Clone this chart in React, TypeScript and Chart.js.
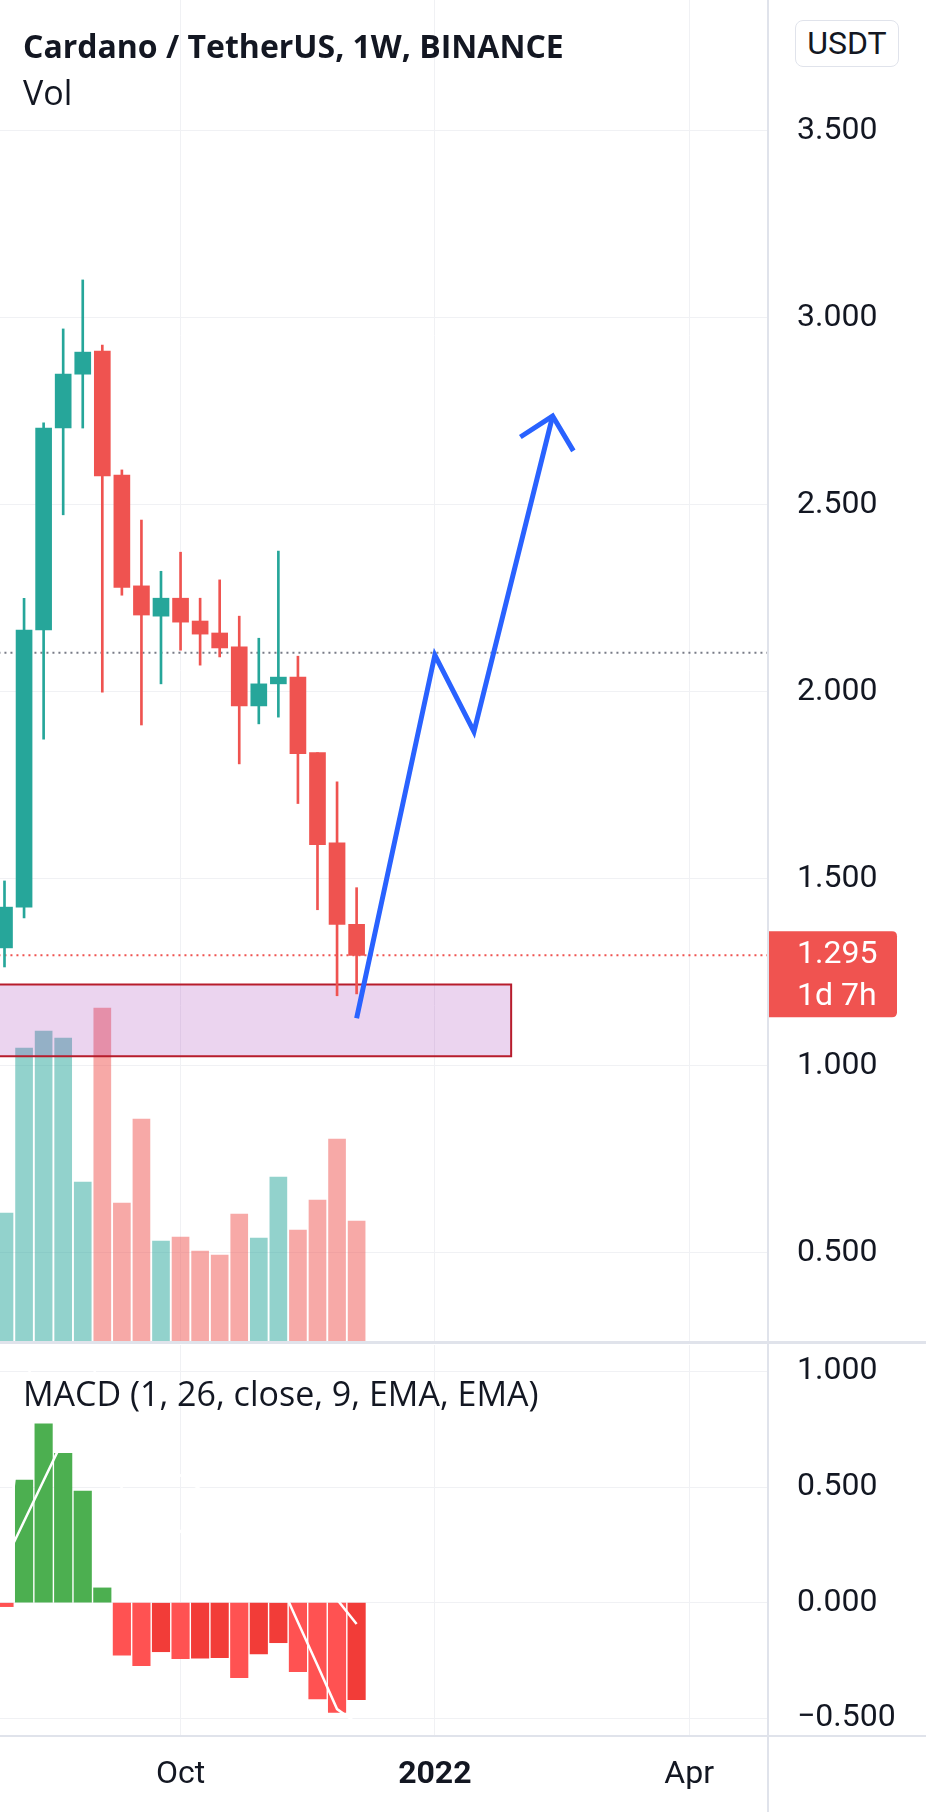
import React, { useEffect, useRef } from 'react';
import { Chart, registerables } from 'chart.js';

Chart.register(...registerables);

// ---------- data ----------
const weeks = [
  '2021-08-02', '2021-08-09', '2021-08-16', '2021-08-23', '2021-08-30',
  '2021-09-06', '2021-09-13', '2021-09-20', '2021-09-27', '2021-10-04',
  '2021-10-11', '2021-10-18', '2021-10-25', '2021-11-01', '2021-11-08',
  '2021-11-15', '2021-11-22', '2021-11-29', '2021-12-06',
];
const opens = [1.315, 1.424, 2.165, 2.705, 2.849, 2.911, 2.579, 2.283, 2.202, 2.250, 2.189, 2.157, 2.120, 1.962, 2.021, 2.039, 1.837, 1.596, 1.378];
const highs = [1.494, 2.250, 2.719, 2.970, 3.101, 2.927, 2.593, 2.459, 2.322, 2.373, 2.250, 2.299, 2.202, 2.143, 2.376, 2.095, 1.837, 1.759, 1.476];
const lows = [1.264, 1.395, 1.873, 2.473, 2.705, 1.999, 2.258, 1.911, 2.021, 2.111, 2.071, 2.093, 1.807, 1.914, 1.932, 1.701, 1.417, 1.187, 1.192];
const closes = [1.424, 2.165, 2.705, 2.849, 2.908, 2.577, 2.279, 2.205, 2.250, 2.186, 2.154, 2.117, 1.962, 2.021, 2.039, 1.834, 1.591, 1.378, 1.295];
const volumes = [1280, 2930, 3100, 3030, 1590, 3330, 1380, 2220, 1000, 1040, 900, 860, 1270, 1030, 1640, 1110, 1410, 2020, 1200];

const macdHist = [-0.017, 0.530, 0.773, 0.646, 0.483, 0.064, -0.227, -0.272, -0.212, -0.242, -0.240, -0.238, -0.324, -0.222, -0.173, -0.298, -0.416, -0.474, -0.419];
const macdLine = [0.166, 0.882, 1.301, 1.350, 1.263, 0.834, 0.493, 0.388, 0.388, 0.308, 0.250, 0.202, 0.066, 0.118, 0.104, -0.085, -0.270, -0.460, -0.520];
const signalLine = [0.176, 0.352, 0.528, 0.704, 0.780, 0.770, 0.720, 0.660, 0.600, 0.550, 0.490, 0.440, 0.390, 0.340, 0.277, 0.213, 0.146, 0.014, -0.092];

const priceTicks = [0.5, 1, 1.5, 2, 2.5, 3, 3.5];
const macdTicks = [-0.5, 0, 0.5, 1];
const timeTickIdx = [9, 22, 35];
const timeTickLabels = ['Oct', '2022', 'Apr'];

const projX = [18, 22, 24, 28.02];
const projY = [1.127, 2.098, 1.893, 2.737];
const arrowHeadX = [26.37, 28.02, 29.08];
const arrowHeadY = [2.681, 2.737, 2.644];

const zoneX = [-2, 25.9];
const zonePrice = [1.025, 1.217];

const hLinePrice = 2.104;
const lastPrice = 1.295;
const lastPriceLabel = '1.295';
const countdownLabel = '1d 7h';

// ---------- view range ----------
const X_MIN = -0.23;
const X_MAX = 39.03;
const P_MIN = 0.2639;
const P_MAX = 3.8495;
const M_MIN = -0.572;
const M_MAX = 1.1141;
const VOL_MAX = 13410;

const UP = '#26a69a';
const DOWN = '#ef5350';
const GRID = '#f0f1f4';
const TEXT = '#131722';
const FONT = 'Roboto';

const idx = weeks.map((_, i) => i);
const isUp = idx.map((i) => closes[i] >= opens[i]);

function noPad(s: any) {
  s.paddingTop = 0;
  s.paddingBottom = 0;
  s.paddingLeft = 0;
  s.paddingRight = 0;
}

function xAxisGrid(showLabels: boolean, height: number) {
  return {
    type: 'linear',
    min: X_MIN,
    max: X_MAX,
    offset: false,
    grid: { color: GRID, lineWidth: 1, drawTicks: false, offset: false },
    border: { display: false },
    afterBuildTicks: (s: any) => {
      s.ticks = timeTickIdx.map((v) => ({ value: v }));
    },
    afterFit: (s: any) => {
      s.height = height;
      noPad(s);
    },
    ticks: {
      display: showLabels,
      padding: 21,
      maxRotation: 0,
      autoSkip: false,
      color: TEXT,
      font: (ctx: any) => ({
        family: FONT,
        size: 32,
        weight: ctx.tick && ctx.tick.value === 22 ? 'bold' : 'normal',
      }),
      callback: (v: any) => {
        const k = timeTickIdx.indexOf(v);
        return k >= 0 ? timeTickLabels[k] : '';
      },
    },
  };
}

function yAxis(min: number, max: number, ticks: number[], fmt: (v: number) => string) {
  return {
    type: 'linear',
    position: 'right',
    min,
    max,
    grid: { color: GRID, drawTicks: false },
    border: { display: false },
    afterBuildTicks: (s: any) => {
      s.ticks = ticks.map((v) => ({ value: v }));
    },
    afterFit: (s: any) => {
      s.width = 158;
      noPad(s);
    },
    ticks: {
      padding: 29,
      color: TEXT,
      font: { family: FONT, size: 32 },
      callback: (v: any) => fmt(Number(v)),
    },
  };
}

const priceTagPlugin = {
  id: 'priceTag',
  afterDraw(chart: any) {
    const { ctx, scales } = chart;
    const y = scales.y.getPixelForValue(lastPrice);
    const x0 = 767;
    const x1 = 897;
    const top = y - 24;
    const bot = y + 62;
    ctx.save();
    ctx.fillStyle = '#f05350';
    ctx.beginPath();
    const r = 5;
    ctx.moveTo(x0, top);
    ctx.lineTo(x1 - r, top);
    ctx.quadraticCurveTo(x1, top, x1, top + r);
    ctx.lineTo(x1, bot - r);
    ctx.quadraticCurveTo(x1, bot, x1 - r, bot);
    ctx.lineTo(x0, bot);
    ctx.closePath();
    ctx.fill();
    ctx.fillStyle = '#ffffff';
    ctx.font = `32px ${FONT}`;
    ctx.textBaseline = 'middle';
    ctx.textAlign = 'left';
    ctx.fillText(lastPriceLabel, 797, y);
    ctx.fillText(countdownLabel, 797, y + 42);
    ctx.restore();
  },
};

export default function App() {
  const priceRef = useRef<HTMLCanvasElement>(null);
  const macdRef = useRef<HTMLCanvasElement>(null);

  useEffect(() => {
    document.body.style.margin = '0';
    const candleColors = idx.map((i) => (isUp[i] ? UP : DOWN));
    const volColors = idx.map((i) => (isUp[i] ? 'rgba(38,166,154,0.5)' : 'rgba(239,83,80,0.5)'));

    const c1 = new Chart(priceRef.current as HTMLCanvasElement, {
      type: 'bar',
      data: {
        datasets: [
          {
            type: 'line',
            label: 'projection',
            data: projX.map((x, i) => ({ x, y: projY[i] })),
            borderColor: '#2962ff',
            borderWidth: 5,
            borderJoinStyle: 'miter',
            borderCapStyle: 'butt',
            pointRadius: 0,
            tension: 0,
            fill: false,
            order: 0,
          } as any,
          {
            type: 'line',
            label: 'arrowhead',
            data: arrowHeadX.map((x, i) => ({ x, y: arrowHeadY[i] })),
            borderColor: '#2962ff',
            borderWidth: 5,
            borderJoinStyle: 'miter',
            pointRadius: 0,
            tension: 0,
            fill: false,
            order: 0,
          } as any,
          {
            type: 'bar',
            label: 'bodies',
            data: idx.map((i) => ({ x: i, y: [opens[i], closes[i]] })),
            backgroundColor: candleColors,
            barThickness: 16,
            grouped: false,
            borderSkipped: false,
            order: 1,
          } as any,
          {
            type: 'bar',
            label: 'wicks',
            data: idx.map((i) => ({ x: i, y: [lows[i], highs[i]] })),
            backgroundColor: candleColors,
            barThickness: 2,
            grouped: false,
            order: 2,
          } as any,
          {
            type: 'line',
            label: 'level',
            data: [{ x: X_MIN - 1, y: hLinePrice }, { x: X_MAX + 1, y: hLinePrice }],
            borderColor: '#787b86',
            borderWidth: 2,
            borderDash: [2, 4],
            pointRadius: 0,
            fill: false,
            order: 3,
          } as any,
          {
            type: 'line',
            label: 'last',
            data: [{ x: X_MIN - 1, y: lastPrice }, { x: X_MAX + 1, y: lastPrice }],
            borderColor: DOWN,
            borderWidth: 2,
            borderDash: [2, 4],
            pointRadius: 0,
            fill: false,
            order: 3,
          } as any,
          {
            type: 'line',
            label: 'zone',
            data: [
              { x: zoneX[0], y: zonePrice[1] },
              { x: zoneX[1], y: zonePrice[1] },
              { x: zoneX[1], y: zonePrice[0] },
              { x: zoneX[0], y: zonePrice[0] },
              { x: zoneX[0], y: zonePrice[1] },
            ],
            borderColor: '#b71c2c',
            borderWidth: 2,
            backgroundColor: 'rgba(156,39,176,0.2)',
            fill: 'shape',
            pointRadius: 0,
            tension: 0,
            order: 4,
          } as any,
          {
            type: 'bar',
            label: 'volume',
            yAxisID: 'vol',
            data: idx.map((i) => ({ x: i, y: volumes[i] })),
            backgroundColor: volColors,
            barThickness: 17,
            grouped: false,
            order: 5,
          } as any,
        ],
      },
      options: {
        responsive: false,
        animation: false,
        devicePixelRatio: 1,
        layout: { padding: 0, autoPadding: false },
        plugins: { legend: { display: false }, tooltip: { enabled: false } },
        scales: {
          x: xAxisGrid(false, 0) as any,
          y: yAxis(P_MIN, P_MAX, priceTicks, (v) => v.toFixed(3)) as any,
          vol: {
            type: 'linear',
            display: false,
            min: 0,
            max: VOL_MAX,
          },
        },
      } as any,
      plugins: [priceTagPlugin],
    });

    const histColors = idx.map((i) => {
      if (macdHist[i] >= 0) return '#4caf50';
      const prev = i > 0 ? macdHist[i - 1] : 0;
      return macdHist[i] < prev ? '#ff5252' : '#f23c38';
    });

    const c2 = new Chart(macdRef.current as HTMLCanvasElement, {
      type: 'bar',
      data: {
        datasets: [
          {
            type: 'line',
            label: 'MACD',
            data: idx.map((i) => ({ x: i, y: macdLine[i] })),
            borderColor: '#ffffff',
            borderWidth: 2.5,
            pointRadius: 0,
            tension: 0,
            fill: false,
            order: 0,
          } as any,
          {
            type: 'line',
            label: 'Signal',
            data: idx.map((i) => ({ x: i, y: signalLine[i] })),
            borderColor: '#ffffff',
            borderWidth: 2.5,
            pointRadius: 0,
            tension: 0,
            fill: false,
            order: 0,
          } as any,
          {
            type: 'bar',
            label: 'Histogram',
            data: idx.map((i) => ({ x: i, y: macdHist[i] })),
            backgroundColor: histColors,
            barThickness: 17.5,
            grouped: false,
            order: 1,
          } as any,
        ],
      },
      options: {
        responsive: false,
        animation: false,
        devicePixelRatio: 1,
        layout: { padding: 0, autoPadding: false },
        plugins: { legend: { display: false }, tooltip: { enabled: false } },
        scales: {
          x: xAxisGrid(true, 77) as any,
          y: yAxis(M_MIN, M_MAX, macdTicks, (v) => (v < 0 ? '\u2212' : '') + Math.abs(v).toFixed(3)) as any,
        },
      } as any,
    });

    return () => {
      c1.destroy();
      c2.destroy();
    };
  }, []);

  const legendFont = '"Open Sans", "Noto Sans", sans-serif';
  return (
    <div style={{ position: 'relative', width: 926, height: 1812, overflow: 'hidden', background: '#ffffff' }}>
      <canvas ref={priceRef} width={926} height={1341} style={{ position: 'absolute', left: 0, top: 0 }} />
      <canvas ref={macdRef} width={926} height={467} style={{ position: 'absolute', left: 0, top: 1345 }} />
      {/* pane separators and axis border */}
      <div style={{ position: 'absolute', left: 0, top: 1341, width: 926, height: 3, background: '#e0e3eb' }} />
      <div style={{ position: 'absolute', left: 0, top: 1735, width: 926, height: 2, background: '#e0e3eb' }} />
      <div style={{ position: 'absolute', left: 767, top: 0, width: 2, height: 1812, background: '#e0e3eb' }} />
      {/* legends */}
      <div style={{ position: 'absolute', left: 23, top: 26, fontFamily: legendFont, fontWeight: 700, fontSize: 32, lineHeight: '40px', color: TEXT, whiteSpace: 'nowrap' }}>
        Cardano / TetherUS, 1W, BINANCE
      </div>
      <div style={{ position: 'absolute', left: 23, top: 72, fontFamily: legendFont, fontSize: 34, lineHeight: '40px', color: TEXT }}>
        Vol
      </div>
      <div style={{ position: 'absolute', left: 23, top: 1373, fontFamily: legendFont, fontSize: 34, lineHeight: '40px', color: TEXT, whiteSpace: 'nowrap' }}>
        MACD (1, 26, close, 9, EMA, EMA)
      </div>
      <div style={{ position: 'absolute', left: 795, top: 20, width: 104, height: 47, border: '1.5px solid #e0e3eb', borderRadius: 8, boxSizing: 'border-box', fontFamily: FONT, fontSize: 32, lineHeight: '44px', textAlign: 'center', color: TEXT, background: '#fff' }}>
        USDT
      </div>
    </div>
  );
}
